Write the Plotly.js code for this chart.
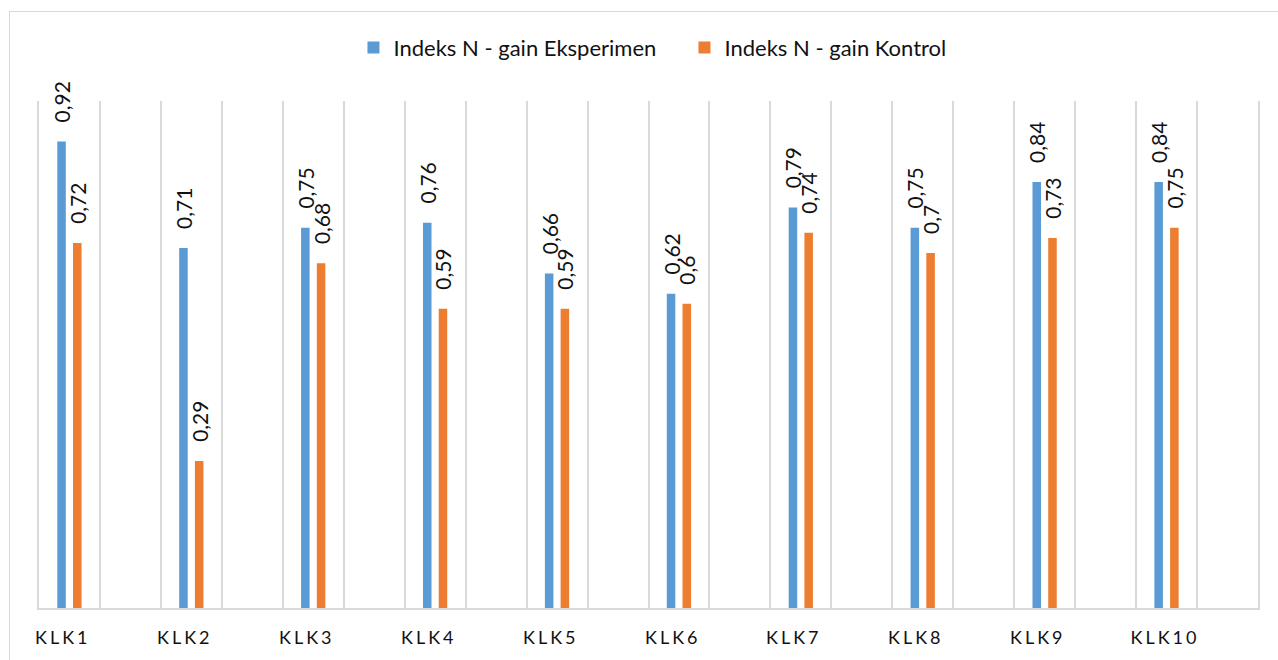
<!DOCTYPE html>
<html>
<head>
<meta charset="utf-8">
<script src="https://cdn.plot.ly/plotly-3.0.1.min.js"></script>
<style>
  html, body { margin: 0; padding: 0; background: #fff; overflow: hidden; }
  #frame { position: absolute; left: 9px; top: 11px; width: 2000px; height: 2000px;
           border-left: 1px solid #D9D9D9; border-top: 1px solid #D9D9D9; pointer-events: none; z-index: 5; }
  #chart { position: absolute; left: 0; top: 0; width: 1278px; height: 660px; }
</style>
</head>
<body>
<div id="chart"></div>
<div id="frame"></div>
<script>
const categories = ["KLK1","KLK2","KLK3","KLK4","KLK5","KLK6","KLK7","KLK8","KLK9","KLK10"];
const eksperimen = [0.92, 0.71, 0.75, 0.76, 0.66, 0.62, 0.79, 0.75, 0.84, 0.84];
const kontrol    = [0.72, 0.29, 0.68, 0.59, 0.59, 0.60, 0.74, 0.70, 0.73, 0.75];
const seriesNames = ["Indeks N - gain Eksperimen", "Indeks N - gain Kontrol"];

const FONT = "Lato, 'Open Sans', sans-serif";
const TXT = "#111111";
const GRID = "#D9D9D9";
const PAD = "\u00A0\u00A0\u00A0";
const fmt = v => PAD + String(v).replace(".", ",");

function barTrace(name, vals, color, offset) {
  return {
    type: "bar", name: name, x: categories, y: vals,
    marker: { color: color },
    width: 0.07, offset: offset,
    text: vals.map(fmt), textposition: "outside", textangle: -90,
    constraintext: "none", cliponaxis: false,
    textfont: { family: FONT, size: 21, color: TXT },
    outsidetextfont: { family: FONT, size: 21, color: TXT },
    hoverinfo: "skip"
  };
}

// invisible helper trace so the boundary-grid axis (x2) is drawn
const helper = {
  type: "scatter", mode: "markers", xaxis: "x2", yaxis: "y",
  x: categories.map((c, i) => i), y: eksperimen,
  marker: { opacity: 0, size: 1 }, showlegend: false, hoverinfo: "skip"
};

const data = [
  helper,
  barTrace(seriesNames[0], eksperimen, "#5B9BD5", -0.35),
  barTrace(seriesNames[1], kontrol, "#ED7D31", -0.221)
];

const annotations = categories.map((c, i) => ({
  text: c, x: i - 0.5, xref: "x", y: 0, yref: "paper",
  xanchor: "left", yanchor: "middle", yshift: -29, showarrow: false,
  font: { family: FONT, size: 18, color: TXT }
}));

const layout = {
  width: 1278, height: 660,
  margin: { l: 39, r: 20, t: 101, b: 52 },
  paper_bgcolor: "#fff", plot_bgcolor: "#fff",
  barmode: "group",
  showlegend: true,
  legend: {
    orientation: "h", x: 0.5295, xanchor: "center", y: 1.105, yanchor: "middle",
    font: { family: FONT, size: 22, color: TXT }, itemwidth: 30, traceorder: "normal",
    entrywidth: 286, entrywidthmode: "pixels"
  },
  xaxis: {
    type: "category", range: [-0.5, 9.5], showgrid: true, gridcolor: GRID, gridwidth: 2,
    showticklabels: false, ticks: "", showline: true, linecolor: GRID, linewidth: 2,
    zeroline: false, fixedrange: true
  },
  xaxis2: {
    overlaying: "x", anchor: "y", type: "linear", range: [-0.5, 9.5],
    tickmode: "linear", tick0: -0.5, dtick: 1, showgrid: true, gridcolor: GRID, gridwidth: 2,
    showticklabels: false, ticks: "", zeroline: false, showline: false, fixedrange: true
  },
  yaxis: {
    range: [0, 1], showgrid: false, showticklabels: false, ticks: "", zeroline: false,
    showline: true, mirror: true, linecolor: GRID, linewidth: 2, fixedrange: true
  },
  annotations: annotations,
  font: { family: FONT, color: TXT }
};

Plotly.newPlot("chart", data, layout, { displayModeBar: false, staticPlot: true }).then(() => {
  document.querySelectorAll(".annotation-text").forEach(t => { t.style.letterSpacing = "3px"; });
});
</script>
</body>
</html>
